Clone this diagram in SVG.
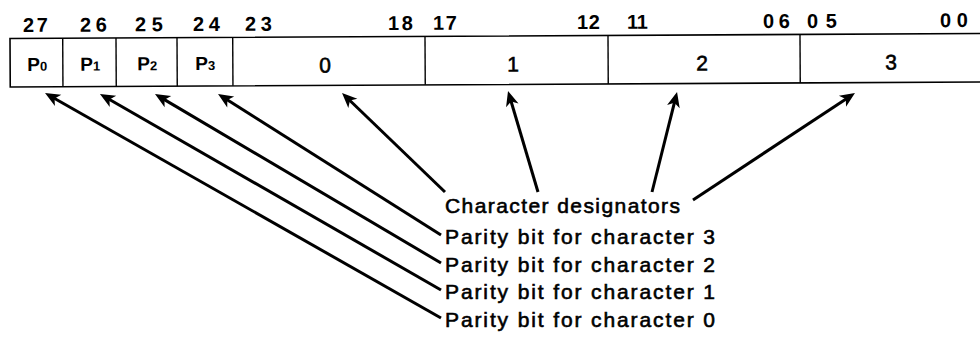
<svg xmlns="http://www.w3.org/2000/svg" width="980" height="345" viewBox="0 0 980 345">
  <style>
    text { font-family: "Liberation Sans", Arial, sans-serif; fill: #000; }
    .bitno { font-size: 20px; font-weight: bold; }
    .cell { fill: #fff; stroke: #000; stroke-width: 1.6; }
    .div { stroke: #000; stroke-width: 1.4; }
    .pl { font-size: 19px; font-weight: bold; text-anchor: middle; }
    .sub { font-size: 13px; font-weight: bold; }
    .ch { font-size: 21px; text-anchor: middle; stroke: #000; stroke-width: 0.6; }
    .lbl { font-size: 21px; stroke: #000; stroke-width: 0.6; }
    .arrow { fill: none; stroke: #000; stroke-width: 3; marker-end: url(#head); }
  </style>
  <defs>
    <marker id="head" markerUnits="userSpaceOnUse" viewBox="-16 -7 16 14" markerWidth="16" markerHeight="14" refX="-8" refY="0" orient="auto">
      <path d="M0,0 L-15,-6.5 L-11,0 L-15,6.5 Z" fill="#000"/>
    </marker>
  </defs>

  <rect width="980" height="345" fill="#fff"/>

  <!-- 28-bit word: four parity bits and four 6-bit characters -->
  <g id="register" transform="rotate(-0.295 10 38.5)">
    <g id="bit-numbers" class="bitno">
      <text x="23" y="32" textLength="25" lengthAdjust="spacing">27</text>
      <text x="80" y="32" textLength="27" lengthAdjust="spacing">26</text>
      <text x="135" y="32" textLength="28" lengthAdjust="spacing">25</text>
      <text x="193" y="32" textLength="27" lengthAdjust="spacing">24</text>
      <text x="245" y="32" textLength="27" lengthAdjust="spacing">23</text>
      <text x="388" y="32" textLength="25" lengthAdjust="spacing">18</text>
      <text x="433" y="32" textLength="24" lengthAdjust="spacing">17</text>
      <text x="577" y="32" textLength="23" lengthAdjust="spacing">12</text>
      <text x="627" y="32" textLength="21" lengthAdjust="spacing">11</text>
      <text x="763" y="32" textLength="27" lengthAdjust="spacing">06</text>
      <text x="807" y="32" textLength="30" lengthAdjust="spacing">05</text>
      <text x="940" y="32" textLength="28" lengthAdjust="spacing">00</text>
    </g>
    <rect class="cell" x="10" y="38.5" width="985" height="48.5"/>
    <g id="cell-p0">
      <line class="div" x1="62.7" y1="38.5" x2="62.7" y2="87"/>
      <text class="pl" x="37" y="71">P<tspan class="sub">0</tspan></text>
    </g>
    <g id="cell-p1">
      <line class="div" x1="116" y1="38.5" x2="116" y2="87"/>
      <text class="pl" x="90" y="71">P<tspan class="sub">1</tspan></text>
    </g>
    <g id="cell-p2">
      <line class="div" x1="177" y1="38.5" x2="177" y2="87"/>
      <text class="pl" x="147" y="71">P<tspan class="sub">2</tspan></text>
    </g>
    <g id="cell-p3">
      <line class="div" x1="232.7" y1="38.5" x2="232.7" y2="87"/>
      <text class="pl" x="205" y="71">P<tspan class="sub">3</tspan></text>
    </g>
    <g id="cell-char0">
      <line class="div" x1="425" y1="38.5" x2="425" y2="87"/>
      <text class="ch" x="325" y="74">0</text>
    </g>
    <g id="cell-char1">
      <line class="div" x1="608" y1="38.5" x2="608" y2="87"/>
      <text class="ch" x="513" y="74">1</text>
    </g>
    <g id="cell-char2">
      <line class="div" x1="800" y1="38.5" x2="800" y2="87"/>
      <text class="ch" x="702" y="74">2</text>
    </g>
    <g id="cell-char3">
      <text class="ch" x="891" y="74">3</text>
    </g>
  </g>

  <!-- legend entries -->
  <g id="label-designators"><text class="lbl" x="445" y="213" textLength="235" lengthAdjust="spacing">Character designators</text></g>
  <g id="label-parity3"><text class="lbl" x="445" y="244" textLength="270" lengthAdjust="spacing">Parity bit for character 3</text></g>
  <g id="label-parity2"><text class="lbl" x="445" y="272" textLength="270" lengthAdjust="spacing">Parity bit for character 2</text></g>
  <g id="label-parity1"><text class="lbl" x="445" y="299" textLength="270" lengthAdjust="spacing">Parity bit for character 1</text></g>
  <g id="label-parity0"><text class="lbl" x="445" y="327" textLength="270" lengthAdjust="spacing">Parity bit for character 0</text></g>

  <!-- pointers from the legend up to the fields -->
  <g id="connectors">
    <path class="arrow" d="M441,318 L52,97"/>
    <path class="arrow" d="M441,290 L106.9,98"/>
    <path class="arrow" d="M441,263 L161.9,98.1"/>
    <path class="arrow" d="M441,235 L224.8,98.3"/>
    <path class="arrow" d="M445,192 L347.8,98.5"/>
    <path class="arrow" d="M538,192 L510.3,98.7"/>
    <path class="arrow" d="M652,192 L675.1,99.8"/>
    <path class="arrow" d="M693,200 L848.3,97.4"/>
  </g>
</svg>
